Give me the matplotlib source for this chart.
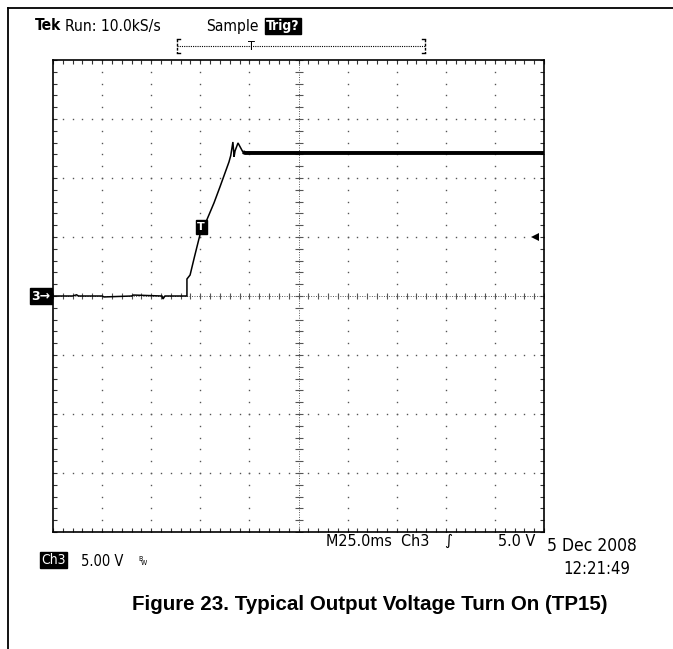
import matplotlib
matplotlib.use("Agg")
import matplotlib.pyplot as plt
from matplotlib.lines import Line2D
import numpy as np

W, H = 673, 649

# ---- data (time in ms, voltage in V) ----
time_ms = [0, 10, 12, 13, 25, 26, 40, 41, 55.5, 56.0, 57.0, 68.2, 68.2, 69.8, 72.0, 74.8,
           78.3, 82.0, 85.0, 89.6, 90.5, 91.6, 92.2, 92.7, 94.2, 96.7, 97.8, 250]
volts = [0, 0, 0.1, 0, 0, -0.08, 0, 0.08, 0, -0.25, 0, 0, 1.44, 1.78, 3.3, 5.17,
         6.44, 7.9, 9.24, 11.36, 11.9, 13.05, 11.8, 12.3, 12.97, 12.2, 12.12, 12.12]
settle_index = 26  # trace from here is the settled (noisy, thick) level

x_divs = 10
y_divs = 8
ms_per_div = 25.0
v_per_div = 5.0
trigger_level = 5.0
trigger_time = 75.4

header_main = "Run: 10.0kS/s"
header_mode = "Sample"
header_trig = "Trig?"
scale_text = "5.00 V"
timebase_text = "M25.0ms  Ch3"
trig_text = "5.0 V"
date_text = "5 Dec 2008"
time_text = "12:21:49"
caption = "Figure 23. Typical Output Voltage Turn On (TP15)"

fig = plt.figure(figsize=(W / 100, H / 100), dpi=100)
fig.patch.set_facecolor("white")

def fx(x):
    return x / W

def fy(y):
    return 1 - y / H

# outer frame (left and top lines)
fig.add_artist(Line2D([fx(8), fx(8)], [fy(8), fy(649)], color="black", lw=1.3))
fig.add_artist(Line2D([fx(8), fx(673)], [fy(8), fy(8)], color="black", lw=1.3))

L, T, R, B = 53, 60, 544, 532
ax = fig.add_axes([fx(L), fy(B), (R - L) / W, (B - T) / H])
xmax = x_divs * ms_per_div
ymax = y_divs / 2 * v_per_div
ax.set_xlim(0, xmax)
ax.set_ylim(-ymax, ymax)
for s in ax.spines.values():
    s.set_linewidth(1.2)

# border ticks (inward, 1/5 division)
ax.set_xticks(np.arange(0, xmax + 0.01, ms_per_div / 5))
ax.set_yticks(np.arange(-ymax, ymax + 0.01, v_per_div / 5))
ax.tick_params(direction="in", length=3, width=0.8, top=True, right=True,
               labelbottom=False, labelleft=False, color="#333333")

# dotted graticule
gray = "#555555"
for k in range(1, x_divs):
    if k == x_divs // 2:
        continue
    xs = np.full(int(y_divs * 5) + 1, k * ms_per_div)
    ys = np.arange(-ymax, ymax + 0.01, v_per_div / 5)
    ax.plot(xs, ys, ls="none", marker="s", ms=1.0, color=gray, mew=0)
for k in range(1, y_divs):
    if k == y_divs // 2:
        continue
    yv = -ymax + k * v_per_div
    xs = np.arange(0, xmax + 0.01, ms_per_div / 5)
    ax.plot(xs, np.full(len(xs), yv), ls="none", marker="s", ms=1.0, color=gray, mew=0)

# center cross lines: dense dots + minor ticks
xc = xmax / 2
ax.plot([0, xmax], [0, 0], ls=(0, (1, 1.5)), lw=0.7, color=gray)
ax.plot([xc, xc], [-ymax, ymax], ls=(0, (1, 1.5)), lw=0.7, color=gray)
tx = np.arange(0, xmax + 0.01, ms_per_div / 5)
ax.plot(tx, np.zeros(len(tx)), ls="none", marker="|", ms=5, mew=0.8, color=gray)
ty = np.arange(-ymax, ymax + 0.01, v_per_div / 5)
ax.plot(np.full(len(ty), xc), ty, ls="none", marker="_", ms=6, mew=0.8, color=gray)

# trace
ax.plot(time_ms[:settle_index + 1], volts[:settle_index + 1], color="black", lw=1.1,
        solid_joinstyle="miter")
ax.plot(time_ms[settle_index - 1:], volts[settle_index - 1:], color="black", lw=2.8,
        solid_capstyle="butt")

# trigger marker on trace
ax.text(trigger_time, trigger_level + 0.85, "T", color="white", fontsize=8, fontweight="bold",
        ha="center", va="center", family="DejaVu Sans",
        bbox=dict(boxstyle="square,pad=0.15", facecolor="black", edgecolor="black"))
# trigger level arrow at right
ax.plot([xmax - 4.5], [trigger_level], marker="<", ms=6, color="black", mew=0)

# ground marker
fig.text(fx(41), fy(296), "3\u2192", color="white", fontsize=9, fontweight="bold",
         ha="center", va="center", family="DejaVu Sans",
         bbox=dict(boxstyle="square,pad=0.12", facecolor="black", edgecolor="black"))

cond = dict(family="DejaVu Sans", fontstretch="condensed")

# header
fig.text(fx(35), fy(26), "Tek", fontsize=11.2, fontweight="bold", va="center", ha="left", **cond)
fig.text(fx(65), fy(26), header_main, fontsize=11.2, va="center", ha="left", **cond)
fig.text(fx(206), fy(26), header_mode, fontsize=11.2, va="center", ha="left", **cond)
fig.text(fx(266), fy(26), header_trig, fontsize=10, fontweight="bold", color="white",
         va="center", ha="left",
         bbox=dict(boxstyle="square,pad=0.1", facecolor="black", edgecolor="black"), **cond)

# record bracket
fig.add_artist(Line2D([fx(177), fx(425)], [fy(46), fy(46)], color="black", lw=0.8,
                      ls=(0, (1, 1))))
for xb, sgn in [(177, 1), (425, -1)]:
    fig.add_artist(Line2D([fx(xb), fx(xb)], [fy(39), fy(53)], color="black", lw=1.0,
                          ls=(0, (2, 1))))
    fig.add_artist(Line2D([fx(xb), fx(xb + 3 * sgn)], [fy(39), fy(39)], color="black", lw=1.0))
    fig.add_artist(Line2D([fx(xb), fx(xb + 3 * sgn)], [fy(53), fy(53)], color="black", lw=1.0))
fig.text(fx(251), fy(46), "T", fontsize=9, ha="center", va="center", **cond)

# bottom readouts
fig.text(fx(326), fy(541), timebase_text, fontsize=11.5, ha="left", va="center", **cond)
fig.text(fx(444), fy(541), "\u222b", fontsize=11, ha="left", va="center", family="DejaVu Sans")
fig.text(fx(498), fy(541), trig_text, fontsize=11.5, ha="left", va="center", **cond)
fig.text(fx(547), fy(546), date_text, fontsize=12.5, ha="left", va="center", **cond)
fig.text(fx(563), fy(569), time_text, fontsize=12, ha="left", va="center", **cond)
fig.text(fx(41), fy(560), "Ch3", fontsize=10, color="white", ha="left", va="center",
         bbox=dict(boxstyle="square,pad=0.1", facecolor="black", edgecolor="black"), **cond)
fig.text(fx(81), fy(561), scale_text, fontsize=10.5, ha="left", va="center", **cond)
fig.text(fx(138), fy(559), "B", fontsize=5, ha="left", va="center", **cond)
fig.text(fx(141), fy(563), "W", fontsize=5, ha="left", va="center", **cond)

# caption
fig.text(fx(370), fy(605), caption, fontsize=14.8, fontweight="bold", ha="center", va="center",
         family="Liberation Sans")

fig.savefig("out.png", dpi=100)
